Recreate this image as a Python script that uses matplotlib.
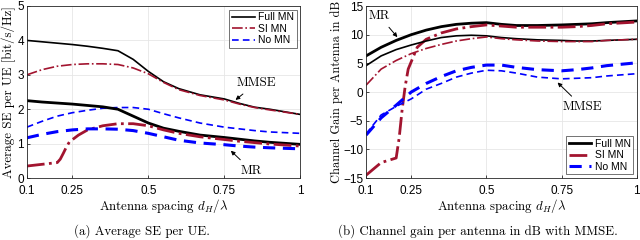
import numpy as np
import matplotlib.pyplot as plt

plt.rcParams['mathtext.fontset'] = 'cm'

# antenna spacing d_H / lambda
d = [0.1, 0.15, 0.2, 0.25, 0.3, 0.35, 0.4, 0.45, 0.5, 0.55, 0.6, 0.67, 0.75, 0.8, 0.85, 0.9, 1.0]

# (a) average SE per UE [bit/s/Hz]
se_mmse_full = [4.0, 3.96, 3.92, 3.88, 3.83, 3.77, 3.7, 3.45, 3.1, 2.8, 2.6, 2.42, 2.3, 2.17, 2.06, 2.0, 1.85]
se_mmse_si = [3.0, 3.15, 3.25, 3.3, 3.32, 3.32, 3.3, 3.2, 3.03, 2.78, 2.57, 2.4, 2.27, 2.15, 2.05, 1.98, 1.85]
se_mmse_no = [1.48, 1.65, 1.8, 1.9, 1.97, 2.03, 2.05, 2.05, 2.0, 1.87, 1.75, 1.6, 1.48, 1.43, 1.38, 1.34, 1.3]
se_mr_full = [2.25, 2.21, 2.18, 2.15, 2.11, 2.07, 2.0, 1.8, 1.6, 1.45, 1.36, 1.25, 1.18, 1.13, 1.08, 1.04, 0.98]
se_mr_no = [1.17, 1.27, 1.35, 1.4, 1.43, 1.43, 1.42, 1.38, 1.3, 1.2, 1.1, 1.02, 0.97, 0.93, 0.9, 0.88, 0.85]
d_si = [0.1, 0.15, 0.2, 0.21, 0.22, 0.23, 0.24, 0.27, 0.3, 0.35, 0.4, 0.45, 0.5, 0.55, 0.6, 0.67, 0.75, 0.8, 0.85, 0.9, 1.0]
se_mr_si = [0.35, 0.4, 0.45, 0.55, 0.72, 0.9, 1.05, 1.25, 1.4, 1.52, 1.58, 1.58, 1.52, 1.4, 1.3, 1.2, 1.12, 1.07, 1.03, 0.99, 0.93]

# (b) channel gain per antenna [dB]
g_mr_full = [6.3, 7.8, 9.0, 10.0, 10.8, 11.4, 11.8, 12.0, 12.1, 11.8, 11.6, 11.6, 11.7, 11.8, 11.9, 12.1, 12.4]
g_mmse_full = [4.6, 6.3, 7.4, 8.2, 8.9, 9.5, 9.8, 9.9, 9.8, 9.5, 9.3, 9.1, 9.0, 8.9, 8.9, 9.0, 9.2]
g_mmse_si = [1.2, 4.0, 5.5, 6.7, 7.6, 8.3, 8.9, 9.3, 9.6, 9.3, 9.1, 8.9, 8.8, 8.8, 8.8, 9.0, 9.2]
g_mr_no = [-7.5, -4.5, -2.3, 0.0, 1.5, 2.7, 3.7, 4.3, 4.7, 4.7, 4.3, 3.9, 3.7, 3.9, 4.2, 4.6, 5.1]
g_mmse_no = [-7.3, -4.0, -2.5, -1.2, 0.5, 1.5, 2.6, 3.3, 3.8, 3.7, 3.3, 2.6, 2.3, 2.4, 2.5, 2.8, 3.2]
g_mr_si = [-14.5, -12.3, -11.5, -8.0, -3.0, 1.0, 4.0, 7.8, 9.2, 10.3, 11.0, 11.4, 11.7, 11.5, 11.3, 11.3, 11.3, 11.4, 11.6, 11.9, 12.2]

xticks = [0.1, 0.25, 0.5, 0.75, 1]
xtick_labels = ['0.1', '0.25', '0.5', '0.75', '1']

red = '#a2142f'
blue = '#0000ff'
tick_font = 'Liberation Sans'
label_font = 'cmr10'
fs_lab = 9.3
fs_tick = 8.5

fig = plt.figure(figsize=(6.4, 2.4), dpi=100)
ax1 = fig.add_axes([0.042, 0.258, 0.427, 0.717])
ax2 = fig.add_axes([0.572, 0.258, 0.423, 0.717])

arrow = dict(arrowstyle='-|>', color='k', lw=0.7, mutation_scale=6)
dash = (0, (4, 2.5))

# left panel
ax1.plot(d, se_mmse_full, color='k', lw=1.2, label='Full MN')
ax1.plot(d, se_mmse_si, color=red, lw=1.2, ls='-.', label='SI MN')
ax1.plot(d, se_mmse_no, color=blue, lw=1.2, ls=dash, label='No MN')
ax1.plot(d, se_mr_full, color='k', lw=2.0)
ax1.plot(d_si, se_mr_si, color=red, lw=2.0, ls='-.')
ax1.plot(d, se_mr_no, color=blue, lw=2.2, ls=dash)
ax1.set_ylim(0, 5)
ax1.set_yticks([0, 1, 2, 3, 4, 5])
ax1.set_ylabel('Average SE per UE [bit/s/Hz]', fontfamily=label_font, fontsize=fs_lab, labelpad=1)
ax1.annotate('MMSE', xy=(0.78, 2.22), xytext=(0.855, 2.75), fontfamily=label_font, fontsize=fs_lab,
             ha='center', va='center', arrowprops=arrow)
ax1.annotate('MR', xy=(0.765, 0.85), xytext=(0.84, 0.22), fontfamily=label_font, fontsize=fs_lab,
             ha='center', va='center', arrowprops=arrow)
leg1 = ax1.legend(loc='upper right', prop={'family': tick_font, 'size': 7.5},
                  handlelength=2.2, handletextpad=0.3, borderpad=0.25, labelspacing=0.15,
                  fancybox=False, edgecolor='#333333', borderaxespad=0.35)
leg1.get_frame().set_linewidth(0.6)

# right panel
ax2.plot(d, g_mr_full, color='k', lw=2.0, label='Full MN')
ax2.plot(d_si, g_mr_si, color=red, lw=2.0, ls='-.', label='SI MN')
ax2.plot(d, g_mr_no, color=blue, lw=2.2, ls=dash, label='No MN')
ax2.plot(d, g_mmse_full, color='k', lw=1.2)
ax2.plot(d, g_mmse_si, color=red, lw=1.2, ls='-.')
ax2.plot(d, g_mmse_no, color=blue, lw=1.2, ls=dash)
ax2.set_ylim(-15, 15)
ax2.set_yticks([-15, -10, -5, 0, 5, 10, 15])
ax2.set_ylabel('Channel Gain per Antenna in dB', fontfamily=label_font, fontsize=8.9, labelpad=0)
ax2.annotate('MR', xy=(0.21, 9.2), xytext=(0.145, 13.2), fontfamily=label_font, fontsize=fs_lab,
             ha='center', va='center', arrowprops=arrow)
ax2.annotate('MMSE', xy=(0.73, 2.0), xytext=(0.82, -2.6), fontfamily=label_font, fontsize=fs_lab,
             ha='center', va='center', arrowprops=arrow)
leg2 = ax2.legend(loc='lower right', prop={'family': tick_font, 'size': 7.5},
                  handlelength=2.2, handletextpad=0.3, borderpad=0.25, labelspacing=0.15,
                  fancybox=False, edgecolor='#333333', borderaxespad=0.35)
leg2.get_frame().set_linewidth(0.6)

for ax in (ax1, ax2):
    ax.set_xlim(0.1, 1)
    ax.set_xticks(xticks)
    ax.set_xticklabels(xtick_labels)
    ax.grid(True, color='#e6e6e6', lw=0.6)
    ax.set_axisbelow(True)
    ax.tick_params(labelsize=fs_tick, length=2, width=0.5, direction='in')
    ax.tick_params(axis='x', pad=5)
    ax.tick_params(axis='y', pad=2)
    for lab in ax.get_xticklabels() + ax.get_yticklabels():
        lab.set_fontfamily(tick_font)
    for sp in ax.spines.values():
        sp.set_linewidth(0.6)
        sp.set_color('#262626')
    ax.set_xlabel(r'Antenna spacing $d_H/\lambda$', fontfamily=label_font, fontsize=fs_lab, labelpad=0)

fig.text(0.222, 0.035, '(a) Average SE per UE.', fontfamily=label_font, fontsize=fs_lab, ha='center', va='center')
fig.text(0.747, 0.035, '(b) Channel gain per antenna in dB with MMSE.', fontfamily=label_font, fontsize=fs_lab,
         ha='center', va='center')

fig.savefig('out.png', dpi=100)
